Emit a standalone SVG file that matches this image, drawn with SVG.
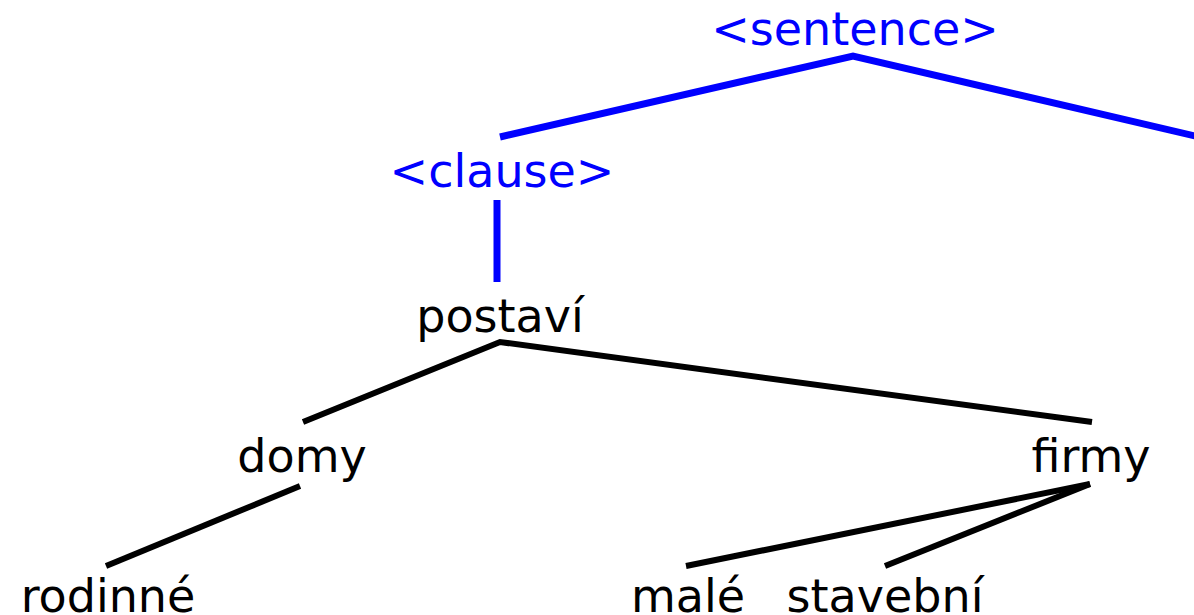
<svg xmlns="http://www.w3.org/2000/svg" width="1194" height="615" viewBox="0 0 1194 615">
<style>
text{font-family:"DejaVu Sans",sans-serif;font-size:46px;text-anchor:middle}
.b{fill:#0000ff}
.k{fill:#000}
.lb{stroke:#0000ff;stroke-width:7;fill:none}
.lk{stroke:#000;stroke-width:6;fill:none}
</style>
<rect width="1194" height="615" fill="#fff"/>
<g id="connectors">
<polyline class="lb" points="500,137 853,56 1208,139"/>
<line class="lb" x1="497" y1="200" x2="497" y2="282"/>
<polyline class="lk" points="303,422 500,342 1092,422"/>
<line class="lk" x1="300" y1="486" x2="106" y2="566"/>
<line class="lk" x1="1090" y1="484" x2="686" y2="566"/>
<line class="lk" x1="1090" y1="484" x2="885" y2="566"/>
</g>
<g id="n-sentence"><text class="b" x="855" y="45">&lt;sentence&gt;</text></g>
<g id="n-clause"><text class="b" x="502" y="187">&lt;clause&gt;</text></g>
<g id="n-postavi"><text class="k" x="500" y="332">postaví</text></g>
<g id="n-domy"><text class="k" x="302" y="472">domy</text></g>
<g id="n-firmy"><text class="k" x="1091" y="472">firmy</text></g>
<g id="n-rodinne"><text class="k" x="108" y="612">rodinné</text></g>
<g id="n-male"><text class="k" x="688" y="612">malé</text></g>
<g id="n-stavebni"><text class="k" x="885" y="612">stavební</text></g>
</svg>
